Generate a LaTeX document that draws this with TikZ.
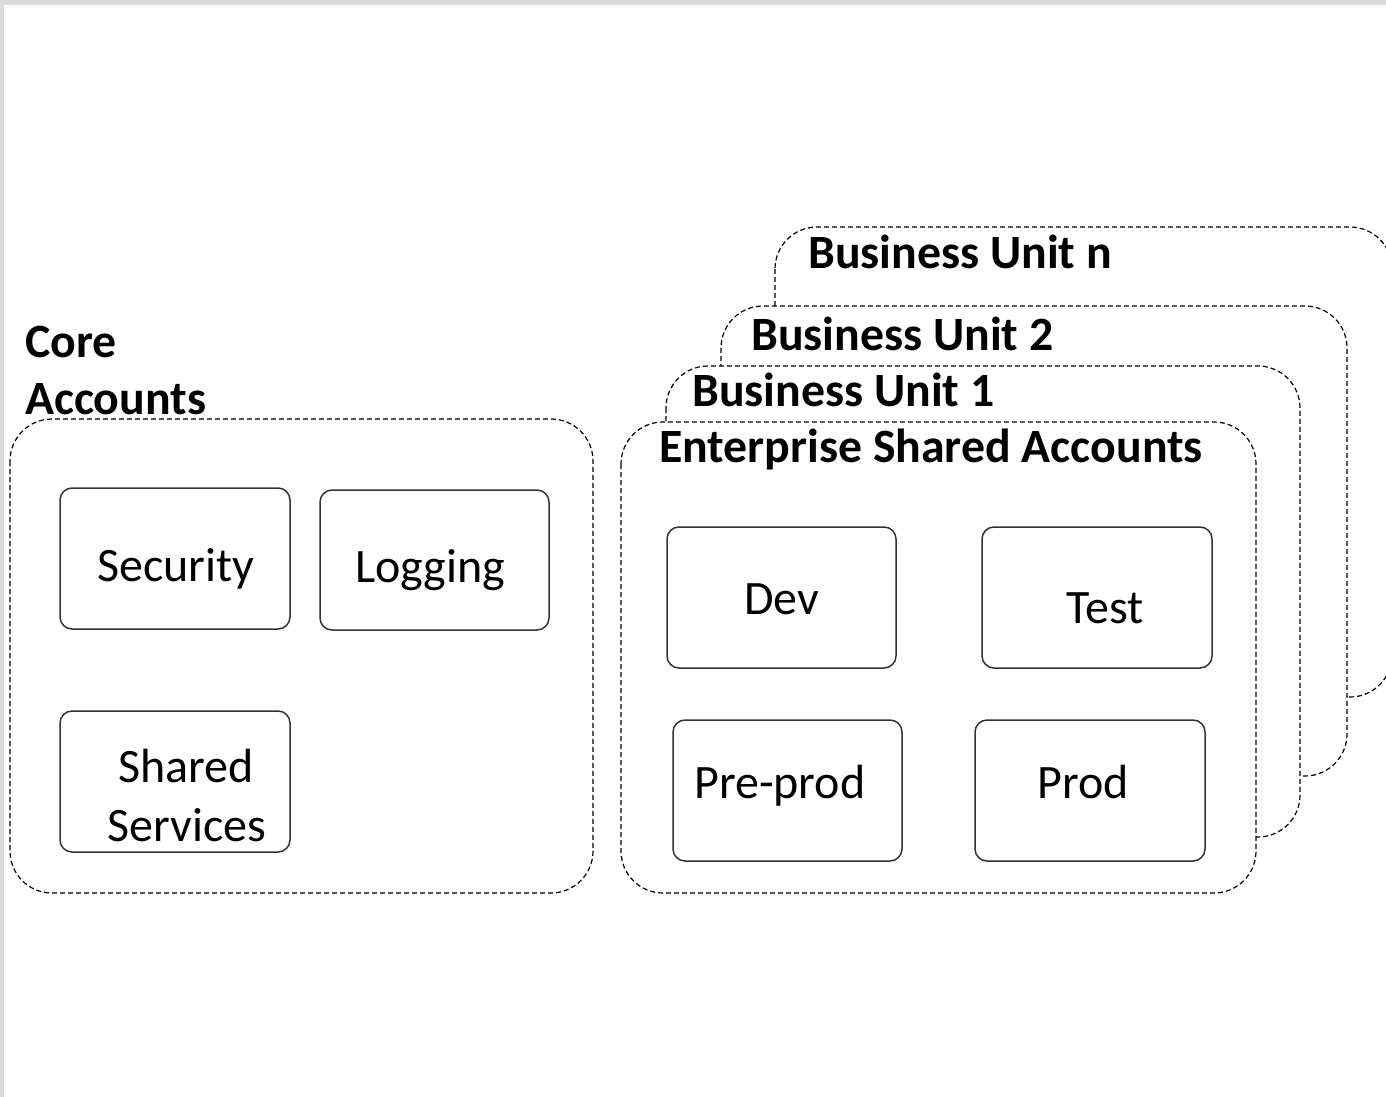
\documentclass[tikz,border=0pt]{standalone}
\usepackage{fontspec}
\setmainfont{Carlito}
\begin{document}
\begin{tikzpicture}[x=1pt,y=-1pt,
  group/.style={draw=black, line width=1.2pt, dash pattern=on 5pt off 3pt, fill=white, rounded corners=42pt},
  acct/.style={draw=black!80, line width=1.5pt, rounded corners=12pt, fill=white},
  lbl/.style={anchor=base west, inner sep=0pt, font=\fontsize{48}{58}\selectfont},
  ttl/.style={anchor=base west, inner sep=0pt, font=\fontsize{47.8}{58}\selectfont\bfseries}]
\useasboundingbox (0,0) rectangle (1386,1097);
\clip (0,0) rectangle (1386,1097);
% page frame
\fill[black!14] (0,0) rectangle (1386,1097);
\fill[white] (4,5) rectangle (1386,1097);

% core accounts group
\draw[group] (10,419) rectangle (593,893);
\node[ttl] (coreA) at (25,357) {Core};
\node[ttl] (coreB) at (25,414) {Accounts};

\draw[acct] (60,488) rectangle (290,629);
\node[lbl] (security) at (97,581) {Security};
\draw[acct] (320,490) rectangle (549,630);
\node[lbl] (logging) at (355,582) {Logging};
\draw[acct] (60,711) rectangle (290,852);
\node[lbl] (sharedA) at (118,782) {Shared};
\node[lbl] (sharedB) at (107,841) {Services};

% stacked business unit groups, back to front
\draw[group] (775,227) rectangle (1392,697);
\node[ttl] (bun) at (808,268) {Business Unit n};
\draw[group] (721,306) rectangle (1347,776);
\node[ttl] (bu2) at (751,350) {Business Unit 2};
\draw[group] (666,366) rectangle (1300,837);
\node[ttl] (bu1) at (692,406) {Business Unit 1};
\draw[group] (621,422) rectangle (1256,893);
\node[ttl] (esa) at (659,462) {Enterprise Shared Accounts};

\draw[acct] (667,527) rectangle (896,668);
\node[lbl] (dev) at (744,614) {Dev};
\draw[acct] (982,527) rectangle (1212,668);
\node[lbl] (test) at (1066,623) {Test};
\draw[acct] (673,720) rectangle (902,861);
\node[lbl] (preprod) at (694,798) {Pre-prod};
\draw[acct] (975,720) rectangle (1205,861);
\node[lbl] (prod) at (1037,798) {Prod};
\end{tikzpicture}
\end{document}
